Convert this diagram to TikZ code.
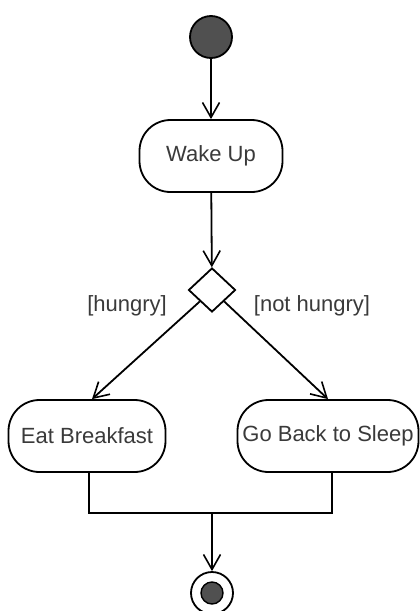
\documentclass[tikz,border=0pt]{standalone}
\usepackage{fontspec}
\setmainfont{Liberation Sans}
\usetikzlibrary{shapes.geometric,arrows.meta}
\definecolor{txt}{HTML}{3A3A3A}
\definecolor{dot}{HTML}{505050}
\begin{document}
\begin{tikzpicture}[x=1pt,y=-1pt,line width=1.8pt,
  action/.style={draw,rectangle,rounded corners=31pt,minimum height=72pt,inner sep=2pt,
    font=\fontsize{22}{26}\selectfont,text=txt},
  flow/.style={-{Straight Barb[length=15pt,width=17pt,line width=1.6pt]}},
  guard/.style={font=\fontsize{22}{26}\selectfont,text=txt,inner sep=0pt}]
\useasboundingbox (0,0) rectangle (420,611);
\fill[white] (0,0) rectangle (420,611);
\node[circle,draw,fill=dot,minimum size=42pt,inner sep=0pt] (start) at (211,37) {};
\node[action,minimum width=143pt] (wake) at (211,156) {Wake Up};
\node[diamond,draw,minimum width=47pt,minimum height=44pt,inner sep=0pt] (dec) at (212,290) {};
\node[action,minimum width=157pt] (eat) at (87,436) {Eat Breakfast};
\node[action,minimum width=181pt] (sleep) at (328,436) {Go Back to Sleep};
\node[guard] (lh) at (127,306) {[hungry]};
\node[guard] (lnh) at (312,306) {[not hungry]};
\coordinate (join) at (212,513);
\node[circle,draw,fill=white,minimum size=42pt,inner sep=0pt] (stop) at (212,593) {};
\node[circle,draw,fill=dot,minimum size=22pt,inner sep=0pt,line width=1.4pt] (stopin) at (212,593) {};
\draw[flow] (start) -- (wake);
\draw[flow] (wake) -- (dec);
\draw[flow] (dec.south west) -- ([xshift=5pt]eat.north);
\draw[flow] (dec.south east) -- (sleep.north);
\draw ([xshift=2pt]eat.south) |- (join) -| ([xshift=4pt]sleep.south);
\draw[flow] (join) -- (stop);
\end{tikzpicture}
\end{document}
